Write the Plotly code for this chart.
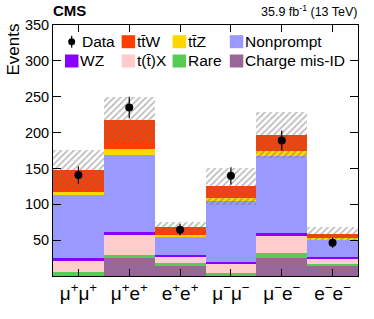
import plotly.graph_objects as go

channels = ["μ<sup>+</sup>μ<sup>+</sup>", "μ<sup>+</sup>e<sup>+</sup>", "e<sup>+</sup>e<sup>+</sup>",
            "μ<sup>−</sup>μ<sup>−</sup>", "μ<sup>−</sup>e<sup>−</sup>", "e<sup>−</sup>e<sup>−</sup>"]

# stacked process yields (bottom to top)
charge_misid = [0.0, 25.5, 14.0, 0.0, 25.0, 14.9]
rare = [5.6, 3.7, 3.6, 4.2, 7.0, 1.8]
ttx = [15.7, 27.5, 8.9, 13.0, 23.2, 7.0]
wz = [3.3, 4.6, 2.3, 2.8, 4.2, 2.3]
nonprompt = [88.7, 107.2, 25.0, 84.5, 108.2, 25.1]
ttz = [3.7, 8.4, 3.8, 4.1, 6.9, 1.8]
ttw = [31.0, 41.3, 10.6, 16.3, 22.3, 6.0]

total_unc = [27.5, 31.0, 7.5, 25.5, 32.0, 9.0]

data = [140.7, 235.0, 64.5, 139.7, 189.0, 46.4]
data_err = [12.0, 15.0, 8.0, 12.0, 14.0, 7.0]

y_ticks = [50, 100, 150, 200, 250, 300, 350]

processes = [
    ("Charge mis-ID", charge_misid, "#996699"),
    ("Rare", rare, "#55cc55"),
    ("t(t\u0304)X", ttx, "#ffcccc"),
    ("WZ", wz, "#8800ff"),
    ("Nonprompt", nonprompt, "#9999ff"),
    ("tt\u0304Z", ttz, "#ffd700"),
    ("tt\u0304W", ttw, "#ff3d00"),
]

xs = list(range(len(channels)))
fig = go.Figure()
for name, vals, col in processes:
    fig.add_trace(go.Bar(x=xs, y=vals, name=name, marker=dict(color=col, line=dict(width=0)),
                         showlegend=False))

totals = [sum(p[1][i] for p in processes) for i in range(len(channels))]
fig.add_trace(go.Bar(
    x=xs, y=[2 * u for u in total_unc], base=[t - u for t, u in zip(totals, total_unc)],
    marker=dict(color="rgba(0,0,0,0)", line=dict(width=0),
                pattern=dict(shape="/", fgcolor="#707070", bgcolor="rgba(0,0,0,0)",
                             size=4.5, solidity=0.35, fillmode="overlay")),
    showlegend=False))

fig.add_trace(go.Scatter(
    x=xs, y=data, mode="markers", marker=dict(color="black", size=8),
    error_y=dict(type="data", array=data_err, color="black", thickness=1.2, width=0),
    showlegend=False))

# plot area in pixels
L, R, T, B = 53, 358.3, 25, 276
W, H = 374, 319

def px(x):
    return (x - L) / (R - L)

def py(y):
    return (B - y) / (B - T)

shapes = []
annotations = []
font = "Liberation Sans, Arial, sans-serif"

legend_entries = [
    ("Data", None, 71.7, 41.7),
    ("tt\u0304W", "#ff3d00", 121.7, 41.7),
    ("tt\u0304Z", "#ffd700", 172.7, 41.7),
    ("Nonprompt", "#9999ff", 230.0, 41.7),
    ("WZ", "#8800ff", 65.0, 61.0),
    ("t(t\u0304)X", "#ffcccc", 121.7, 61.0),
    ("Rare", "#55cc55", 172.7, 61.0),
    ("Charge mis-ID", "#996699", 230.0, 61.0),
]
for name, col, x0, yc in legend_entries:
    if col is None:
        shapes.append(dict(type="line", xref="paper", yref="paper",
                           x0=px(x0), x1=px(x0), y0=py(yc - 6), y1=py(yc + 6),
                           line=dict(color="black", width=1.2)))
        shapes.append(dict(type="circle", xref="paper", yref="paper",
                           x0=px(x0 - 3.5), x1=px(x0 + 3.5), y0=py(yc + 3.5), y1=py(yc - 3.5),
                           fillcolor="black", line=dict(width=0)))
        tx = x0 + 8
    else:
        shapes.append(dict(type="rect", xref="paper", yref="paper",
                           x0=px(x0), x1=px(x0 + 13.5), y0=py(yc + 6.5), y1=py(yc - 6.5),
                           fillcolor=col, line=dict(width=0)))
        tx = x0 + 13.5
    annotations.append(dict(text=name, xref="paper", yref="paper", x=px(tx), y=py(yc),
                            xanchor="left", yanchor="middle", showarrow=False,
                            font=dict(family=font, size=15.5, color="black")))

annotations.append(dict(text="<b>CMS</b>", xref="paper", yref="paper", x=px(L - 2),
                        y=py(21), xanchor="left", yanchor="bottom", showarrow=False,
                        font=dict(family=font, size=15, color="black")))
annotations.append(dict(text="35.9 fb<sup>-1</sup> (13 TeV)", xref="paper", yref="paper",
                        x=px(R + 2), y=py(21), xanchor="right", yanchor="bottom", showarrow=False,
                        font=dict(family=font, size=12.5, color="black")))
annotations.append(dict(text="Events", xref="paper", yref="paper", x=px(1), y=py(22),
                        xanchor="left", yanchor="top", textangle=-90, showarrow=False,
                        font=dict(family=font, size=17, color="black")))

fig.update_layout(
    width=W, height=H,
    margin=dict(l=L, r=W - R, t=T, b=H - B),
    paper_bgcolor="white", plot_bgcolor="white",
    barmode="stack", bargap=0,
    showlegend=False,
    shapes=shapes, annotations=annotations,
    font=dict(family=font, color="black"),
)
fig.update_xaxes(range=[-0.5, 5.5], tickvals=xs, ticktext=channels, ticks="inside",
                 ticklen=7, tickwidth=1, tickcolor="black", showline=True, linecolor="black",
                 linewidth=1, mirror="ticks", showgrid=False, zeroline=False,
                 tickfont=dict(family=font, size=19))
fig.update_yaxes(range=[0, 350], tickvals=y_ticks, ticks="inside", ticklen=8, tickwidth=1,
                 tickcolor="black", showline=True, linecolor="black", linewidth=1,
                 mirror="ticks", showgrid=False, zeroline=False,
                 tickfont=dict(family=font, size=14.5))

fig.write_html("out.html", config={"displayModeBar": False},
               post_script="document.body.style.margin='0';")
